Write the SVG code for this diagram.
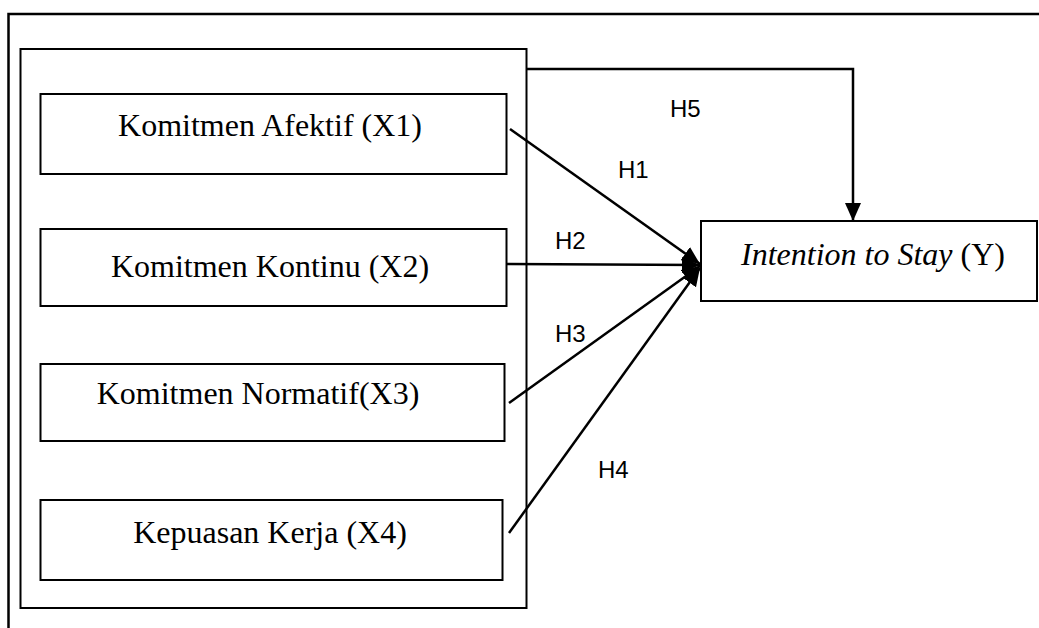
<svg xmlns="http://www.w3.org/2000/svg" width="1039" height="628" viewBox="0 0 1039 628">
<style>
.frame{fill:none;stroke:#000;stroke-width:2.5}
.box{fill:#fff;stroke:#000;stroke-width:2}
.ctr{fill:none;stroke:#000;stroke-width:2}
.lbl{font-family:"Liberation Serif","Times New Roman",serif;font-size:32px;fill:#000;text-anchor:middle}
.h{font-family:"Liberation Sans",Arial,sans-serif;font-size:24px;fill:#000}
.conn{fill:none;stroke:#000;stroke-width:2.5}
</style>
<defs>
<marker id="arr" markerUnits="userSpaceOnUse" markerWidth="20" markerHeight="16" refX="18" refY="8" orient="auto">
<path d="M0,0 L18,8 L0,16 z" fill="#000"/>
</marker>
</defs>
<rect width="1039" height="628" fill="#fff"/>
<path class="frame" d="M8.5,628 V14 H1039"/>
<rect id="container" class="ctr" x="20.5" y="49" width="506" height="559"/>
<g id="x1">
<rect class="box" x="40.5" y="94" width="466" height="80"/>
<text class="lbl" x="270" y="136">Komitmen Afektif (X1)</text>
</g>
<g id="x2">
<rect class="box" x="40.5" y="229" width="466" height="77"/>
<text class="lbl" x="270" y="277">Komitmen Kontinu (X2)</text>
</g>
<g id="x3">
<rect class="box" x="40.5" y="364" width="464" height="77"/>
<text class="lbl" x="258" y="404">Komitmen Normatif(X3)</text>
</g>
<g id="x4">
<rect class="box" x="40.5" y="500" width="462" height="80"/>
<text class="lbl" x="270" y="543">Kepuasan Kerja (X4)</text>
</g>
<g id="y">
<rect class="box" x="701" y="221" width="336" height="80"/>
<text class="lbl" x="873" y="265"><tspan font-style="italic">Intention to Stay</tspan> (Y)</text>
</g>
<g id="connectors">
<path class="conn" d="M527,69 H853 V221" marker-end="url(#arr)"/>
<line class="conn" x1="510" y1="129" x2="700" y2="264" marker-end="url(#arr)"/>
<line class="conn" x1="507" y1="264" x2="700" y2="265" marker-end="url(#arr)"/>
<line class="conn" x1="509" y1="403" x2="700" y2="266" marker-end="url(#arr)"/>
<line class="conn" x1="509" y1="533" x2="700" y2="268" marker-end="url(#arr)"/>
</g>
<g id="labels">
<text class="h" x="670" y="117">H5</text>
<text class="h" x="618" y="178">H1</text>
<text class="h" x="555" y="249">H2</text>
<text class="h" x="555" y="342">H3</text>
<text class="h" x="598" y="478">H4</text>
</g>
</svg>
